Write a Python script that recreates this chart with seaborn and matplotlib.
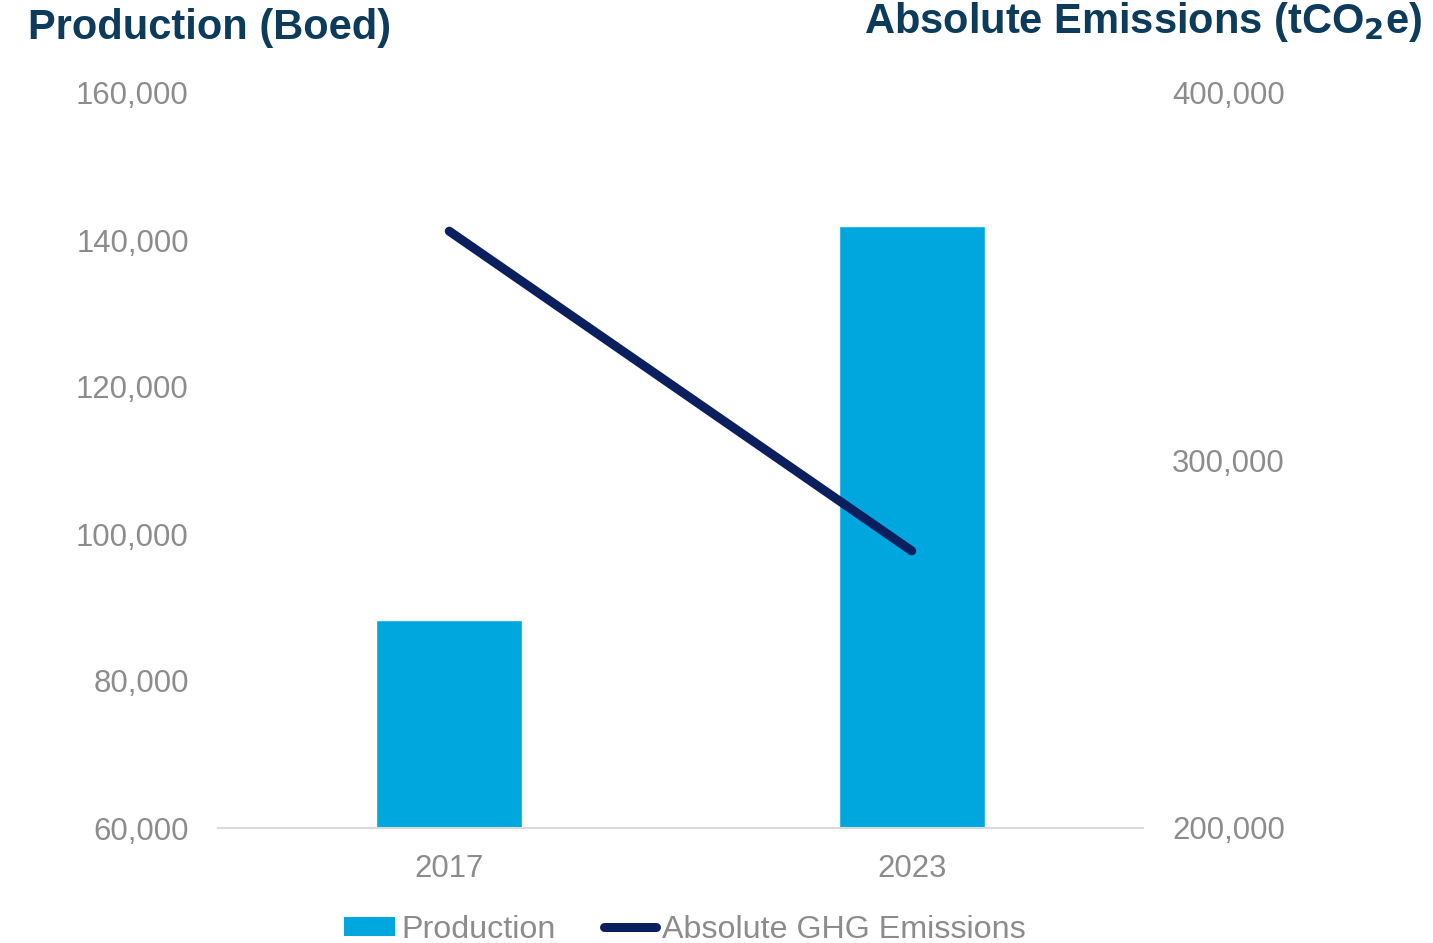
import matplotlib
matplotlib.use("Agg")
import matplotlib.pyplot as plt
import seaborn as sns
from matplotlib.patches import Patch
from matplotlib.lines import Line2D
from matplotlib.ticker import FuncFormatter

# data
years = ["2017", "2023"]
production = [88300, 141900]       # boed, left axis
emissions = [362400, 275400]       # tCO2e, right axis

bar_color = "#00a7de"
line_color = "#0b1f5f"
title_color = "#0d3b5c"
tick_color = "#8c8c8c"

sns.set_theme(style="white")
plt.rcParams["font.family"] = ["Liberation Sans", "DejaVu Sans"]

fig = plt.figure(figsize=(14.33, 9.43), dpi=100)
ax = fig.add_axes([218 / 1433, 115 / 943, 925 / 1433, 735 / 943])

sns.barplot(x=years, y=production, color=bar_color, width=0.315,
            saturation=1, ax=ax)
ax.set_ylim(60000, 160000)
ax.set_yticks(range(60000, 160001, 20000))

ax2 = ax.twinx()
sns.pointplot(x=years, y=emissions, color=line_color, markers="",
              linewidth=6.5, ax=ax2)
for ln in ax2.lines:
    ln.set_solid_capstyle("round")
ax2.set_ylim(200000, 400000)
ax2.set_yticks([200000, 300000, 400000])
ax.set_xlim(-0.5, 1.5)

fmt = FuncFormatter(lambda v, p: f"{int(v):,}")
for a in (ax, ax2):
    a.yaxis.set_major_formatter(fmt)
    a.set_xlabel("")
    a.set_ylabel("")
    for s in a.spines.values():
        s.set_visible(False)
    a.tick_params(length=0, labelsize=22.4, labelcolor=tick_color)
    a.grid(False)
ax.spines["bottom"].set_visible(True)
ax.spines["bottom"].set_color("#d9d9d9")
ax.spines["bottom"].set_linewidth(1.5)
ax.tick_params(axis="y", pad=21)
ax.tick_params(axis="x", pad=19)
ax2.tick_params(axis="y", pad=21)

fig.text(28 / 1433, 1 - 28 / 943, "Production (Boed)", fontsize=30,
         fontweight="bold", color=title_color, ha="left", va="center")
fig.text(1422 / 1433, 1 - 22 / 943, r"Absolute Emissions (tCO$_\mathbf{2}$e)",
         fontsize=30, fontweight="bold", color=title_color, ha="right", va="center")

handles = [Patch(facecolor=bar_color, edgecolor="none"),
           Line2D([], [], color=line_color, linewidth=6.5, solid_capstyle="round")]
leg = fig.legend(handles, ["Production", "Absolute GHG Emissions"],
                 loc="center", bbox_to_anchor=(685 / 1433, 1 - 930 / 943),
                 ncol=2, frameon=False, fontsize=23.2, handlelength=1.6,
                 handleheight=0.55, handletextpad=0.2, columnspacing=1.5)
for t in leg.get_texts():
    t.set_color(tick_color)

fig.savefig("out.png", dpi=100)
